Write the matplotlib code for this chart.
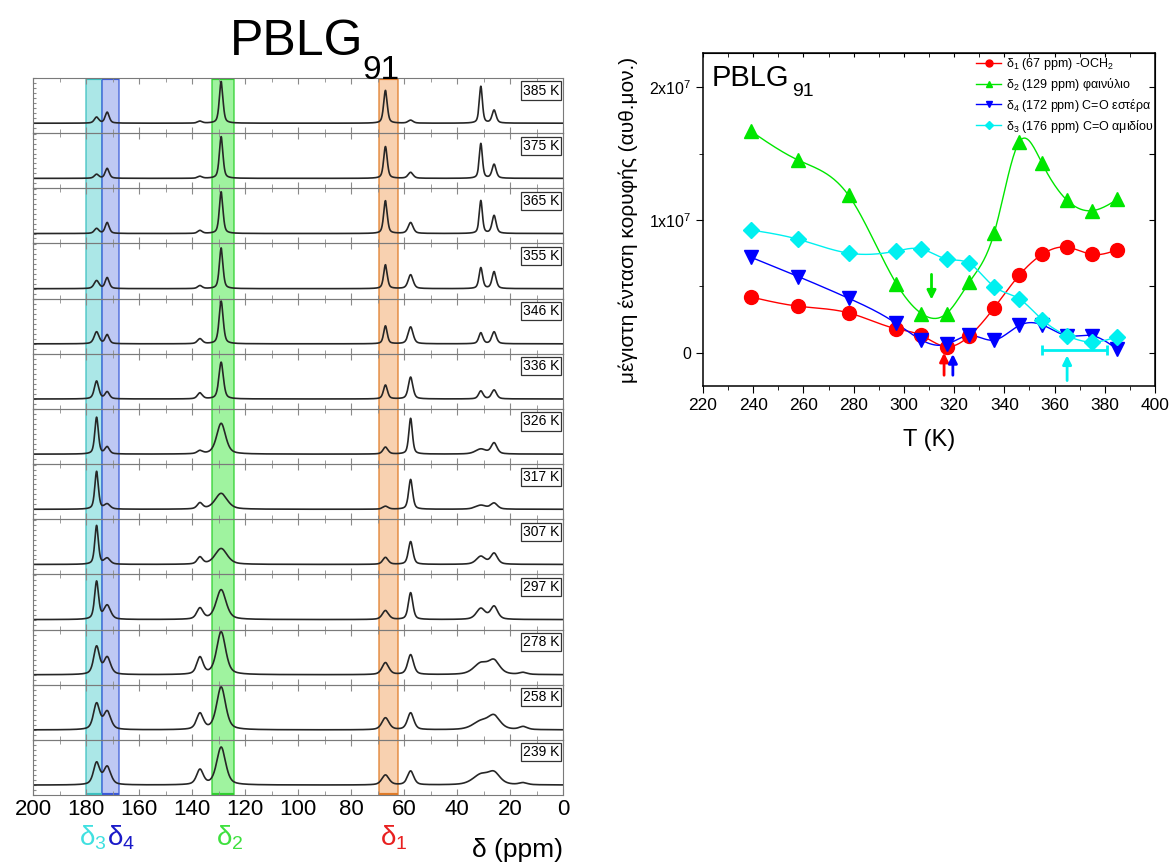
import numpy as np
import matplotlib
matplotlib.use('Agg')
import matplotlib.pyplot as plt
from matplotlib.patches import Rectangle
from matplotlib.ticker import MultipleLocator, FixedLocator
from matplotlib.lines import Line2D

plt.rcParams['font.family'] = ['Liberation Sans', 'DejaVu Sans']
plt.rcParams['mathtext.fontset'] = 'custom'
plt.rcParams['mathtext.rm'] = 'Liberation Sans'
plt.rcParams['mathtext.it'] = 'Liberation Sans:italic'
plt.rcParams['mathtext.bf'] = 'Liberation Sans:bold'

# ---------------- data ----------------
temps = [385, 375, 365, 355, 346, 336, 326, 317, 307, 297, 278, 258, 239]

# 13C peaks (ppm); heights and half widths
peak_pos = [176, 172, 137, 129, 67, 57.5, 31, 26, 15]
peak_height = [
    [6, 11, 2, 42, 33, 3, 37, 13, 0],     # 385 K
    [4, 10, 2, 42, 32, 6, 35, 14, 0],     # 375 K
    [5, 11, 3, 42, 33, 11, 33, 18, 0],    # 365 K
    [8, 11, 3, 41, 24, 14, 21, 17, 0],    # 355 K
    [12, 9, 5, 43, 18, 17, 11, 12, 0],    # 346 K
    [18, 7, 6, 37, 14, 22, 8, 9, 0],      # 336 K
    [37, 7, 3, 31, 7, 36, 5, 11, 0],      # 326 K
    [38, 5, 6, 16, 3, 30, 4, 6, 0],       # 317 K
    [39, 6, 7, 16, 7, 23, 8, 11, 0],      # 307 K
    [38, 14, 11, 30, 9, 27, 11, 13, 0],   # 297 K
    [28, 17, 17, 43, 12, 20, 11, 13, 2],  # 278 K
    [26, 18, 16, 43, 12, 17, 8, 13, 3],   # 258 K
    [22, 18, 15, 38, 10, 14, 10, 11, 2],  # 239 K
]
peak_width = [
    [1.0, 0.9, 1.0, 0.8, 0.8, 1.1, 0.7, 0.9, 1.2],
    [1.0, 0.9, 1.0, 0.8, 0.8, 1.1, 0.7, 0.9, 1.2],
    [1.0, 0.9, 1.0, 0.8, 0.8, 1.1, 0.7, 0.9, 1.2],
    [1.1, 0.9, 1.0, 0.8, 0.8, 1.1, 0.8, 0.9, 1.2],
    [1.1, 0.9, 1.1, 0.9, 0.8, 1.1, 0.9, 1.0, 1.2],
    [1.0, 1.0, 1.1, 1.0, 0.9, 1.0, 1.0, 1.1, 1.2],
    [0.8, 1.0, 1.2, 2.0, 1.1, 0.8, 2.4, 1.3, 1.2],
    [0.8, 1.3, 1.2, 2.7, 1.2, 0.9, 2.4, 1.5, 1.2],
    [0.8, 1.3, 1.2, 2.7, 1.2, 1.0, 2.0, 1.5, 1.2],
    [0.9, 1.5, 1.4, 2.2, 1.4, 1.0, 2.0, 1.6, 1.5],
    [1.3, 1.5, 1.4, 2.0, 1.5, 1.3, 3.2, 2.5, 1.7],
    [1.4, 1.6, 1.5, 2.0, 1.6, 1.4, 3.6, 2.7, 1.8],
    [1.4, 1.6, 1.5, 2.0, 1.6, 1.4, 3.6, 2.7, 1.8],
]

# shaded peak regions (ppm): low, high, fill, edge
bands = [
    (174.0, 180.0, '#8fe0e0', '#3cc0c0'),
    (167.4, 174.0, '#a9b6f0', '#3a5ad8'),
    (124.1, 132.5, '#7ff07f', '#2fd02f'),
    (62.2, 69.5, '#f6c296', '#e07b28'),
]

# maximum peak intensity vs temperature (units of 1e7)
T = [239, 258, 278, 297, 307, 317, 326, 336, 346, 355, 365, 375, 385]
d1 = [0.42, 0.35, 0.30, 0.18, 0.13, 0.045, 0.125, 0.34, 0.585, 0.74, 0.795, 0.74, 0.775]
d2 = [1.67, 1.45, 1.185, 0.52, 0.295, 0.295, 0.53, 0.905, 1.59, 1.427, 1.148, 1.07, 1.155]
d4 = [0.72, 0.573, 0.41, 0.22, 0.095, 0.063, 0.13, 0.095, 0.206, 0.21, 0.128, 0.128, 0.025]
d3 = [0.925, 0.854, 0.75, 0.766, 0.781, 0.706, 0.673, 0.497, 0.405, 0.25, 0.128, 0.08, 0.12]

series = [
    (d1, 'o', '#ff0000', r'δ$_{1}$ (67 ppm) -OCH$_{2}$'),
    (d2, '^', '#00e600', r'δ$_{2}$ (129 ppm) φαινύλιο'),
    (d4, 'v', '#0000ff', r'δ$_{4}$ (172 ppm) C=O εστέρα'),
    (d3, 'D', '#00f0f0', r'δ$_{3}$ (176 ppm) C=O αμιδίου'),
]

# arrows marking transitions: T, tail, head, colour
arrows = [
    (311, 0.59, 0.40, '#00e600'),
    (316, -0.17, 0.0, '#ff0000'),
    (319.5, -0.17, -0.01, '#0000ff'),
    (365, -0.21, -0.02, '#00f0f0'),
]


def smooth(x, y, n=300):
    # natural cubic spline through the points, used for the connecting line
    x = np.asarray(x, float)
    y = np.asarray(y, float)
    k = len(x)
    h = np.diff(x)
    A = np.zeros((k, k))
    b = np.zeros(k)
    A[0, 0] = A[-1, -1] = 1
    for i in range(1, k - 1):
        A[i, i - 1] = h[i - 1]
        A[i, i] = 2 * (h[i - 1] + h[i])
        A[i, i + 1] = h[i]
        b[i] = 6 * ((y[i + 1] - y[i]) / h[i] - (y[i] - y[i - 1]) / h[i - 1])
    M = np.linalg.solve(A, b)
    xs = np.linspace(x[0], x[-1], n)
    j = np.clip(np.searchsorted(x, xs) - 1, 0, k - 2)
    t1 = x[j + 1] - xs
    t0 = xs - x[j]
    ys = (M[j] * t1 ** 3 + M[j + 1] * t0 ** 3) / (6 * h[j]) \
        + (y[j] / h[j] - M[j] * h[j] / 6) * t1 \
        + (y[j + 1] / h[j] - M[j + 1] * h[j] / 6) * t0
    return xs, ys


fig = plt.figure(figsize=(11.69, 8.66), dpi=100)

# ---------------- left: stacked spectra ----------------
L, R, TOP, BOT = 33 / 1169, 563 / 1169, 1 - 78 / 866, 1 - 795 / 866
n = len(temps)
ph = (TOP - BOT) / n
ppm = np.linspace(0, 200, 4001)

bg = fig.add_axes([L, BOT, R - L, TOP - BOT], zorder=0)
bg.set_xlim(200, 0)
bg.set_ylim(0, 1)
bg.axis('off')
for lo, hi, fc, ec in bands:
    bg.add_patch(Rectangle((lo, 0), hi - lo, 1, facecolor=fc, edgecolor=ec,
                           lw=1.2, alpha=0.75))
    bg.plot([lo, hi], [1, 1], color=ec, lw=3, solid_capstyle='butt')
    bg.plot([lo, hi], [0, 0], color=ec, lw=3, solid_capstyle='butt')

for i, t in enumerate(temps):
    ax = fig.add_axes([L, TOP - (i + 1) * ph, R - L, ph], zorder=1)
    ax.patch.set_alpha(0)
    spec = np.zeros_like(ppm)
    for p, hgt, w in zip(peak_pos, peak_height[i], peak_width[i]):
        lor = w ** 2 / ((ppm - p) ** 2 + w ** 2)
        gau = np.exp(-np.log(2) * ((ppm - p) / w) ** 2)
        spec += hgt * (0.5 * lor + 0.5 * gau)
    ax.plot(ppm, spec, color='#262626', lw=1.2)
    ax.set_xlim(200, 0)
    ax.set_ylim(-10, 45.5)
    for s in ax.spines.values():
        s.set_color('#7a7a7a')
    ax.xaxis.set_major_locator(MultipleLocator(20))
    ax.xaxis.set_minor_locator(MultipleLocator(10))
    ax.yaxis.set_major_locator(MultipleLocator(5))
    ax.tick_params(axis='x', which='both', direction='in', top=True, bottom=True,
                   color='#8a8a8a', length=3, labelbottom=(i == n - 1),
                   labelsize=16, pad=3)
    ax.tick_params(axis='x', which='major', length=4)
    ax.tick_params(axis='y', direction='in', left=True, right=False, length=2,
                   color='#8a8a8a', labelleft=False)
    ax.text(0.993, 0.9, f'{t} K', transform=ax.transAxes, ha='right', va='top',
            fontsize=10,
            bbox=dict(boxstyle='square,pad=0.15', fc='white', ec='#333333', lw=0.9))

fig.text(230 / 1169, 1 - 55 / 866, 'PBLG', ha='left', va='baseline', fontsize=36)
fig.text(362 / 1169, 1 - 79 / 866, '91', ha='left', va='baseline', fontsize=24)

for txt, xpix, col in [(r'δ$_{3}$', 93, '#40e0e0'), (r'δ$_{4}$', 121, '#1a1ac8'),
                       (r'δ$_{2}$', 230, '#3ee03e'), (r'δ$_{1}$', 394, '#e82020')]:
    fig.text(xpix / 1169, 1 - 845 / 866, txt, ha='center', va='baseline',
             fontsize=20, color=col)
fig.text(563 / 1169, 1 - 857 / 866, 'δ (ppm)', ha='right', va='baseline',
         fontsize=19)

# ---------------- right: peak intensity vs T ----------------
ax2 = fig.add_axes([703 / 1169, 1 - 386 / 866, 452 / 1169, 333 / 866])
handles = []
for vals, mk, col, lab in series:
    y = np.array(vals) * 1e7
    xs, ys = smooth(T, y)
    ax2.plot(xs, ys, color=col, lw=1.0, zorder=2)
    ax2.plot(T, y, ls='none', marker=mk, color=col, ms=10 if mk != 'D' else 8.5,
             zorder=3)
    handles.append(Line2D([], [], color=col, lw=1.0, marker=mk,
                          ms=5 if mk != 'D' else 4.5, label=lab))

for tx, y0, y1, col in arrows:
    ax2.annotate('', xy=(tx, y1 * 1e7), xytext=(tx, y0 * 1e7),
                 arrowprops=dict(arrowstyle='-|>', color=col, lw=2,
                                 mutation_scale=13, shrinkA=0, shrinkB=0),
                 zorder=4)
ax2.errorbar([365], [0.02e7], xerr=[[10], [16]], fmt='none', ecolor='#00f0f0',
             elinewidth=2, capsize=3.5, capthick=2, zorder=4)

ax2.set_xlim(220, 400)
ax2.set_ylim(-0.251e7, 2.258e7)
ax2.xaxis.set_major_locator(MultipleLocator(20))
ax2.xaxis.set_minor_locator(MultipleLocator(10))
ax2.yaxis.set_major_locator(FixedLocator([0, 1e7, 2e7]))
ax2.yaxis.set_minor_locator(FixedLocator([0.5e7, 1.5e7]))
ax2.set_yticklabels(['0', r'1x10$^{7}$', r'2x10$^{7}$'])
ax2.tick_params(axis='both', which='both', direction='out', top=False, right=False)
ax2.tick_params(axis='x', which='major', length=5, labelsize=12.5)
ax2.tick_params(axis='x', which='minor', length=3)
ax2.tick_params(axis='y', which='major', length=5, labelsize=11.5)
ax2.tick_params(axis='y', which='minor', length=3)
sec_top = ax2.secondary_xaxis('top')
sec_top.xaxis.set_major_locator(MultipleLocator(20))
sec_top.xaxis.set_minor_locator(MultipleLocator(10))
sec_top.tick_params(which='both', direction='in', labeltop=False, length=3)
sec_right = ax2.secondary_yaxis('right')
sec_right.yaxis.set_major_locator(MultipleLocator(0.5e7))
sec_right.tick_params(direction='in', labelright=False, length=4)
for s in ax2.spines.values():
    s.set_linewidth(1.1)

ax2.set_xlabel('T (K)', fontsize=17, labelpad=12)
ax2.set_ylabel('μέγιστη ένταση κορυφής (αυθ.μον.)', fontsize=15, labelpad=8)
ax2.text(0.02, 0.9, 'PBLG', transform=ax2.transAxes, fontsize=21,
         ha='left', va='baseline')
ax2.text(0.198, 0.872, '91', transform=ax2.transAxes, fontsize=14,
         ha='left', va='baseline')
ax2.legend(handles=handles, loc='upper right', bbox_to_anchor=(1.008, 1.005),
           fontsize=9, frameon=False, handlelength=2.0, handletextpad=0.35,
           labelspacing=0.3, borderaxespad=0.0)

fig.savefig('out.png', dpi=100)
